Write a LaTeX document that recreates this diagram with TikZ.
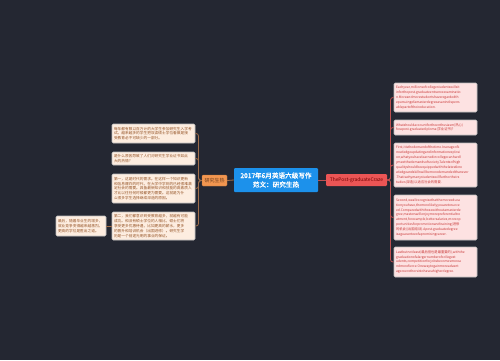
\documentclass[tikz,border=0pt]{standalone}
\usepackage{fontspec}
\newfontfamily\cjk{Noto Sans CJK SC}
\newfontfamily\cjkbold{Noto Sans CJK SC}[FakeBold=1.5]
\usetikzlibrary{positioning}
\definecolor{mapbg}{RGB}{36,39,50}
\definecolor{leftfill}{RGB}{253,237,224}
\definecolor{leftink}{RGB}{150,85,40}
\definecolor{leftline}{RGB}{160,110,75}
\definecolor{rightfill}{RGB}{253,226,226}
\definecolor{rightink}{RGB}{200,55,55}
\definecolor{rightline}{RGB}{190,80,80}
\definecolor{rootblue}{RGB}{28,145,235}
\definecolor{topicorange}{RGB}{242,150,80}
\definecolor{topicred}{RGB}{235,85,85}

\begin{document}
\begin{tikzpicture}[x=1pt,y=-1pt,
  leftbox/.style={draw=white!75!black,fill=leftfill,text=leftink,rounded corners=1.2pt,line width=0.6pt,
    text width=79pt,inner sep=2pt,align=left,font=\cjk\fontsize{3.7}{4.9}\selectfont},
  rightbox/.style={draw=white!75!black,fill=rightfill,text=rightink,rounded corners=1.2pt,line width=0.6pt,
    text width=79pt,inner sep=2pt,align=left,font=\cjk\fontsize{3.3}{4.9}\selectfont},
  root/.style={fill=rootblue,text=white,rounded corners=1pt,minimum width=84pt,minimum height=24pt,
    inner sep=2pt,align=center,font=\cjkbold\fontsize{6.6}{9}\selectfont},
  ltopic/.style={fill=topicorange,draw=topicorange!80!black,text=leftink!70!black,rounded corners=1.2pt,
    minimum width=25pt,minimum height=11pt,inner sep=1pt,font=\cjk\fontsize{5}{6}\selectfont},
  rtopic/.style={fill=topicred,text=red!45!black,rounded corners=1.2pt,
    minimum width=61pt,minimum height=12pt,inner sep=1pt,font=\cjk\fontsize{4.9}{6}\selectfont},
  lbranch/.style={draw=leftline,line width=0.8pt,rounded corners=2.5pt},
  rbranch/.style={draw=rightline,line width=0.8pt,rounded corners=2.5pt}]
\fill[mapbg] (0,0) rectangle (500,360);
\useasboundingbox (0,0) rectangle (500,360);

\node[root] (root) at (276,180) {2017年6月英语六级写作\\范文：研究生热};
\node[ltopic] (lt) at (214.5,180.5) {研究生热};
\node[rtopic] (rt) at (356.5,180) {ThePost-graduateCraze};

% left side
\node[leftbox,minimum height=19pt] (l1) at (153.5,133.5) {每年都有数以百万计的大学生参加研究生入学考\\试。越来越多的学生把攻读硕士学位看做是接\\受教育必不可缺少的一部分。};
\node[leftbox,minimum height=13pt] (l2) at (153.5,158.5) {是什么原因导致了人们对研究生学业证书如此\\大的热情？};
\node[leftbox,minimum height=29pt] (l3) at (153.5,188.5) {第一，这是时代的需求。在这样一个知识更新\\和信息爆炸的时代，在大学中学到的已经很难满\\足社会的需要。具备最新知识和技能的高素质人\\才比以往任何时候都更为需要。这就是为什\\么很多学生选择继续深造的原因。};
\node[leftbox,minimum height=28pt] (l4) at (153.5,226) {第二，我们都意识到受教育越多，就越有可能\\成功。和没有硕士学位的人相比，硕士们将\\享受更多优惠待遇，比如更高的薪水，更多\\的晋升和培训机会（出国进修）。研究生学\\历是一个前途光明的事业的保证。};
\node[leftbox,text width=46pt,minimum height=20pt] (l5) at (81,226) {最后，随着毕业生的增多，\\就业竞争变得越来越激烈。\\更高的学位是胜出之道。};

% right side
\node[rightbox,minimum height=29pt] (r1) at (435.5,97.5) {Eachyear,millionsofcollegestudentswillsit\\inforthepost-graduateentranceexaminatio\\n.Moreandmorestudentshaveregardedth\\epursuingofamasterdegreeasanindispens\\ablepartoftheireducation.};
\node[rightbox,minimum height=15pt] (r2) at (435.5,127.5) {Whatshouldaccountfortheenthusiasm(热心)\\forapost-graduatediploma(学业证书)?};
\node[rightbox,minimum height=44pt] (r3) at (435.5,165) {First,itisthedemandofthetime.Inanageofk\\nowledgeupdatingandinformationexplosi\\on,whatyouhavelearnedincollegecanhardl\\ymeetthedemandsofsociety.Talentsofhigh\\qualityshouldbeequippedwiththelatestkno\\wledgeandskillswillbemoredemandedthanever\\.Thatiswhymanystudentswillfurthertheirs\\tudies(深造)以适应社会的需要.};
\node[rightbox,minimum height=45pt] (r4) at (435.5,217.5) {Second,weallrecognisethatthemoreeduca\\tionyouhave,themorelikelyyouaretosucce\\ed.Comparedwiththosewithoutamasterde\\gree,masterswillenjoymorepreferentialtre\\atment,forexample,bettersalaries,moreop\\portunitiesforpromotionandtraining(进修\\的机会)(出国培训).Apost-graduatedegree\\isaguaranteeofapromisingcareer.};
\node[rightbox,minimum height=30pt] (r5) at (435.5,262) {Lastbutnotleast(最后但也是最重要的),withthe\\graduationofalargernumberofcollegest\\udents,competitionforjobsbecomesmorea\\ndmorefierce.Onewaytogainmoreadvant\\ageoverothersistohaveahigherdegree.};

% connectors
\coordinate (ljoint) at (198.5,180.5);
\coordinate (rjoint) at (390.5,180);
\draw[lbranch] (root.west) -- (lt.east);
\foreach \n in {l1,l2,l3,l4}{
  \draw[lbranch] (lt.west) -- (ljoint) |- (\n.east);}
\draw[lbranch] (l4.west) -- (l5.east);
\draw[rbranch] (root.east) -- (rt.west);
\foreach \n in {r1,r2,r3,r4,r5}{
  \draw[rbranch] (rt.east) -- (rjoint) |- (\n.west);}
\end{tikzpicture}
\end{document}
